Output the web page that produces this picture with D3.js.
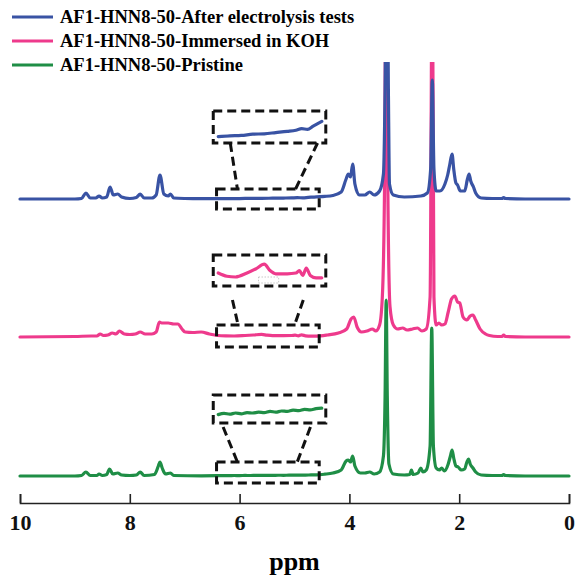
<!DOCTYPE html>
<html>
<head>
<meta charset="utf-8">
<script src="https://cdn.jsdelivr.net/npm/d3@7"></script>
<style>
  body { margin: 0; background: #fff; }
  svg { display: block; font-family: "Liberation Serif", "Times New Roman", serif; }
  .legend text { font-size: 18.5px; font-weight: bold; }
  .axis text { font-size: 22px; font-weight: bold; font-family: "Liberation Serif", serif; }
  .axis path, .axis line { stroke: #222; stroke-width: 1.6; }
  .spec { fill: none; stroke-width: 3.2; stroke-linejoin: round; stroke-linecap: round; }
  .dash { fill: none; stroke: #111; stroke-width: 3; stroke-dasharray: 9,5; }
</style>
</head>
<body>
<svg id="chart" width="576" height="579"></svg>
<script>
// tick labels / series
const ppmTicks = [10, 8, 6, 4, 2, 0];
const seriesNames = [
  "AF1-HNN8-50-After electrolysis tests",
  "AF1-HNN8-50-Immersed in KOH",
  "AF1-HNN8-50-Pristine"
];
const seriesColors = ["#3953a4", "#ee3a8c", "#1f8e46"];
// vertical stacking offset of each trace (intensity units)
const seriesOffsets = [281, 143, 4];

// [ppm, intensity]
const blueData = [
  [10, 0], [9.0, 0], [8.88, 0.5], [8.8, 6], [8.72, 1], [8.62, 1], [8.56, 3], [8.5, 1],
  [8.42, 2], [8.36, 12], [8.3, 4], [8.22, 5], [8.15, 2], [8.0, 0.5], [7.88, 1.5],
  [7.81, 5], [7.74, 1], [7.6, 1], [7.52, 4], [7.45, 24], [7.38, 5], [7.3, 3], [7.26, 5],
  [7.2, 1], [7.0, 0.5], [6.7, 0.3], [6.4, 0.3], [6.2, 0.4], [6.0, 0.45], [5.8, 0.6],
  [5.6, 0.65], [5.4, 0.8], [5.2, 0.95], [5.05, 1.1], [4.95, 1.3], [4.85, 1.2],
  [4.75, 1.6], [4.6, 2.2], [4.45, 2.6], [4.3, 3.5], [4.15, 7], [4.06, 20], [4.02, 25],
  [3.98, 22], [3.94, 35], [3.9, 15], [3.82, 4], [3.72, 4], [3.63, 7], [3.55, 4],
  [3.45, 8], [3.38, 25], [3.35, 110], [3.32, 300], [3.29, 110], [3.27, 15], [3.2, 4],
  [3.0, 2], [2.7, 3], [2.58, 6], [2.52, 30], [2.49, 119], [2.46, 30], [2.42, 8],
  [2.35, 8], [2.26, 15], [2.21, 24], [2.17, 35], [2.13, 45], [2.1, 30], [2.06, 16],
  [2.03, 14], [1.98, 8], [1.9, 8], [1.85, 20], [1.82, 25], [1.79, 18], [1.74, 12],
  [1.7, 6], [1.6, 1], [1.4, 0.5], [1.22, 0.5], [1.19, 1.5], [1.16, 0.5], [0.8, 0], [0, 0]
];

const pinkData = [
  [10, 0], [9.0, 0.5], [8.7, 1], [8.6, 1], [8.54, 3], [8.48, 1.5], [8.4, 2], [8.32, 4],
  [8.25, 3], [8.19, 6], [8.1, 3], [8.0, 2.5], [7.9, 3], [7.81, 5], [7.72, 3], [7.6, 3],
  [7.52, 5], [7.46, 15], [7.42, 14], [7.3, 14], [7.2, 13], [7.12, 13], [7.05, 8],
  [6.99, 5], [6.85, 4.5], [6.7, 5], [6.55, 3], [6.4, 1.5], [6.25, 1.1], [6.1, 1.0],
  [5.9, 1.5], [5.75, 2.0], [5.6, 2.6], [5.5, 1.8], [5.4, 1.4], [5.2, 1.4], [5.05, 1.5],
  [4.99, 1.8], [4.93, 1.2], [4.87, 2.1], [4.8, 1.2], [4.7, 0.9], [4.6, 0.9], [4.4, 2],
  [4.2, 4], [4.05, 8], [3.97, 18], [3.92, 20], [3.86, 10], [3.78, 5], [3.68, 6],
  [3.58, 8], [3.52, 6], [3.45, 12], [3.4, 40], [3.36, 150], [3.33, 400], [3.3, 150],
  [3.26, 30], [3.2, 12], [3.12, 8], [3.03, 9], [2.95, 7], [2.85, 8], [2.76, 9],
  [2.68, 6], [2.6, 8], [2.53, 40], [2.49, 400], [2.46, 40], [2.42, 12], [2.37, 14],
  [2.32, 12], [2.26, 13], [2.2, 25], [2.14, 38], [2.08, 41], [2.03, 35], [1.99, 34],
  [1.93, 20], [1.86, 17], [1.8, 21], [1.75, 22], [1.7, 17], [1.62, 8], [1.52, 3],
  [1.45, 1.5], [1.3, 0.5], [1.22, 0.5], [1.19, 2], [1.16, 0.5], [0.8, 0], [0, 0]
];

const greenData = [
  [10, 0], [9.0, 0], [8.88, 0.5], [8.8, 4], [8.72, 0.5], [8.6, 0.5], [8.56, 2], [8.5, 0.5],
  [8.42, 1.5], [8.37, 7], [8.31, 2], [8.22, 3], [8.15, 1], [8.0, 0.5], [7.88, 1],
  [7.81, 4], [7.74, 0.5], [7.55, 1.5], [7.48, 10], [7.45, 14], [7.41, 8], [7.35, 2],
  [7.26, 3], [7.2, 0.5], [6.7, 0.2], [6.4, 0.3], [6.3, 0.45], [6.2, 0.35], [6.1, 0.5],
  [6.0, 0.4], [5.9, 0.55], [5.8, 0.5], [5.7, 0.6], [5.6, 0.55], [5.5, 0.7], [5.4, 0.6],
  [5.3, 0.75], [5.2, 0.7], [5.1, 0.85], [5.0, 0.8], [4.9, 0.95], [4.8, 0.9],
  [4.7, 1.05], [4.6, 1.1], [4.45, 1.8], [4.3, 3], [4.15, 6], [4.06, 15], [4.02, 16],
  [3.98, 14], [3.94, 20], [3.9, 10], [3.8, 3], [3.72, 3], [3.63, 4], [3.55, 2],
  [3.45, 4], [3.38, 20], [3.35, 80], [3.33, 176], [3.31, 80], [3.28, 12], [3.2, 2],
  [3.0, 1], [2.9, 1.5], [2.87, 6], [2.84, 1.5], [2.75, 3], [2.7, 8], [2.66, 4], [2.6, 6],
  [2.53, 30], [2.5, 148], [2.47, 30], [2.42, 8], [2.36, 6], [2.32, 8], [2.27, 5],
  [2.2, 12], [2.16, 20], [2.13, 26], [2.1, 18], [2.06, 10], [2.02, 9], [1.96, 6],
  [1.9, 7], [1.86, 14], [1.83, 17], [1.8, 12], [1.75, 8], [1.7, 4], [1.6, 1], [1.4, 0.5],
  [1.22, 0.5], [1.19, 1.5], [1.16, 0.5], [0.8, 0], [0, 0]
];

const allSeries = [blueData, pinkData, greenData];

// zoom window of the insets (ppm)
const zoomRange = [6.4, 4.6];
const zoomGain = 8;

const svg = d3.select("#chart");
const margin = {left: 20, right: 7, top: 62, bottom: 76};
const W = 576, H = 579;

const x = d3.scaleLinear().domain([10, 0]).range([margin.left, W - margin.right]);
const y = d3.scaleLinear().domain([0, 420]).range([480, 60]);

svg.append("clipPath").attr("id", "plotclip")
  .append("rect")
  .attr("x", 0).attr("y", margin.top)
  .attr("width", W).attr("height", H - margin.top);

const line = off => d3.line()
  .x(d => x(d[0]))
  .y(d => y(d[1] + off))
  .curve(d3.curveMonotoneX);

// draw order: pink underneath, then green, then blue
const plotG = svg.append("g").attr("clip-path", "url(#plotclip)");
[1, 2, 0].forEach(i => {
  plotG.append("path")
    .attr("class", "spec")
    .attr("stroke", seriesColors[i])
    .attr("d", line(seriesOffsets[i])(allSeries[i]));
});

// ---- insets (dashed boxes + zoomed curve) ----
// per trace: upper box top/bottom, lower box top/bottom, connector ends, zoomed baseline
const insetLayout = [
  {up: [88, 56], low: [10, -10], conn: [[6.17, 56, 6.04, 10], [4.58, 56, 4.98, 10]], base: 60},
  {up: [82, 51], low: [12, -10], conn: [[6.13, 37, 6.04, 15], [4.84, 37, 4.98, 15]], base: 52},
  {up: [81, 53], low: [14, -7], conn: [[6.30, 49, 6.04, 14], [4.71, 49, 4.95, 14]], base: 59}
];
const upperPpm = [6.48, 4.43];
const lowerPpm = [6.42, 4.55];

const insetG = svg.append("g");
insetLayout.forEach((L, i) => {
  const off = seriesOffsets[i];
  // upper box
  insetG.append("rect").attr("class", "dash")
    .attr("x", x(upperPpm[0])).attr("y", y(off + L.up[0]))
    .attr("width", x(upperPpm[1]) - x(upperPpm[0]))
    .attr("height", y(off + L.up[1]) - y(off + L.up[0]));
  // lower box
  insetG.append("rect").attr("class", "dash")
    .attr("x", x(lowerPpm[0])).attr("y", y(off + L.low[0]))
    .attr("width", x(lowerPpm[1]) - x(lowerPpm[0]))
    .attr("height", y(off + L.low[1]) - y(off + L.low[0]));
  // connectors
  L.conn.forEach(c => {
    insetG.append("line").attr("class", "dash")
      .attr("x1", x(c[0])).attr("y1", y(off + c[1]))
      .attr("x2", x(c[2])).attr("y2", y(off + c[3]));
  });
  // zoomed trace
  const zx = d3.scaleLinear().domain(zoomRange)
    .range([x(upperPpm[0]) + 5, x(upperPpm[1]) - 4]);
  const y0 = y(off + L.base);
  const zy = d3.scaleLinear().domain([0, 1]).range([y0, y0 - zoomGain]);
  const pts = allSeries[i].filter(d => d[0] <= zoomRange[0] && d[0] >= zoomRange[1]);
  insetG.append("path")
    .attr("class", "spec")
    .attr("stroke", seriesColors[i])
    .attr("stroke-width", i === 2 ? 4.8 : 3)
    .attr("d", d3.line().x(d => zx(d[0])).y(d => zy(d[1])).curve(d3.curveMonotoneX)(pts));
  if (i === 1) {
    // faint dotted mark inside the KOH inset
    insetG.append("rect")
      .attr("x", zx(5.7)).attr("y", y0 - 8)
      .attr("width", zx(5.35) - zx(5.7)).attr("height", 6)
      .attr("fill", "none").attr("stroke", "#bbb")
      .attr("stroke-width", 0.8).attr("stroke-dasharray", "1.5,1.5");
  }
});

// ---- axis ----
const axisY = 503;
const axis = d3.axisBottom(x)
  .tickValues(ppmTicks)
  .tickFormat(d3.format("d"))
  .tickSizeInner(-9)
  .tickSizeOuter(-9)
  .tickPadding(11);
const ax = svg.append("g").attr("class", "axis")
  .attr("transform", `translate(0,${axisY})`)
  .call(axis);
ax.selectAll("text").attr("fill", "#111");

svg.append("text")
  .attr("x", (x(10) + x(0)) / 2).attr("y", 570)
  .attr("text-anchor", "middle")
  .attr("font-size", 26).attr("font-weight", "bold")
  .text("ppm");

// ---- legend ----
const leg = svg.append("g").attr("class", "legend");
seriesNames.forEach((name, i) => {
  const ly = 17 + i * 24;
  leg.append("line")
    .attr("x1", 12).attr("x2", 53).attr("y1", ly).attr("y2", ly)
    .attr("stroke", seriesColors[i]).attr("stroke-width", 3.2);
  leg.append("text")
    .attr("x", 60).attr("y", ly + 6)
    .text(name);
});
</script>
</body>
</html>
